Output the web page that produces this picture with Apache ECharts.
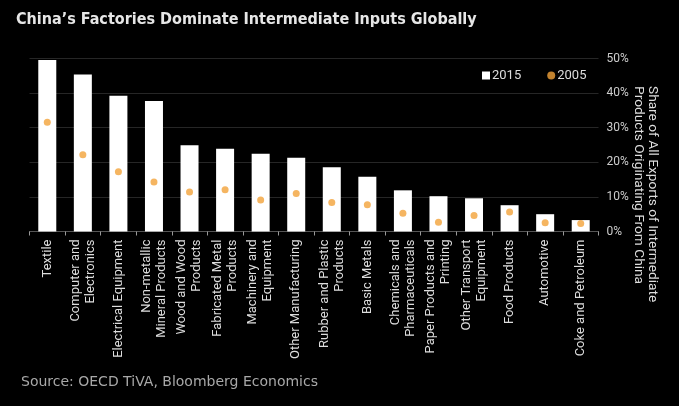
<!DOCTYPE html>
<html><head><meta charset="utf-8">
<script src="https://cdn.jsdelivr.net/npm/echarts@6/dist/echarts.min.js"></script>
<style>html,body{margin:0;padding:0;background:#000;}#c{width:679px;height:406px;}</style>
</head><body><div id="c"></div>
<script>
const categories = ["Textile","Computer and\nElectronics","Electrical Equipment","Non-metallic\nMineral Products","Wood and Wood\nProducts","Fabricated Metal\nProducts","Machinery and\nEquipment","Other Manufacturing","Rubber and Plastic\nProducts","Basic Metals","Chemicals and\nPharmaceuticals","Paper Products and\nPrinting","Other Transport\nEquipment","Food Products","Automotive","Coke and Petroleum"];
const values2015 = [49.6,45.4,39.2,37.7,24.9,23.9,22.5,21.3,18.6,15.8,11.9,10.2,9.6,7.6,5.0,3.3];
const values2005 = [31.6,22.2,17.3,14.3,11.4,12.1,9.1,11.0,8.4,7.7,5.3,2.7,4.6,5.6,2.5,2.3];
const yTicks = [0,10,20,30,40,50];

const chart = echarts.init(document.getElementById('c'));
chart.setOption({
  backgroundColor:'#000',
  animation:false,
  title:{text:"China’s Factories Dominate Intermediate Inputs Globally",left:11,top:7,
    textStyle:{color:'#e6e6e6',fontSize:16,fontWeight:'bold',fontFamily:'"DejaVu Sans Condensed","Liberation Sans Narrow",sans-serif'}},
  legend:{left:477,top:64,itemWidth:8,itemHeight:8,itemGap:26,
    textStyle:{color:'#dddddd',fontSize:13,fontFamily:'Roboto, sans-serif',padding:[0,0,0,-3]},
    data:[{name:'2015',icon:'rect'},{name:'2005',icon:'circle'}]},
  grid:{left:29.5,right:80.5,top:58.5,bottom:174.5},
  xAxis:{type:'category',data:categories,
    axisLine:{lineStyle:{color:'#555'}},
    axisTick:{show:true,length:4,lineStyle:{color:'#999'}},
    axisLabel:{rotate:90,color:'#dddddd',fontSize:13,lineHeight:15,fontFamily:'Roboto, sans-serif',interval:0,margin:8}},
  yAxis:{type:'value',position:'right',min:0,max:50,interval:10,
    axisLabel:{color:'#cccccc',fontSize:12,fontFamily:'Roboto, sans-serif',margin:8,
      formatter:v=>yTicks.includes(v)?v+'%':''},
    splitLine:{lineStyle:{color:'#262626'}},axisLine:{show:false},axisTick:{show:false}},
  graphic:[
    {type:'text',left:631,top:86,rotation:-Math.PI/2,
     style:{text:'Share of All Exports of Intermediate\nProducts Originating From China',fill:'#dddddd',
       font:'13.7px Roboto, sans-serif',lineHeight:14,align:'center'}},
    {type:'text',left:21,top:375,style:{text:'Source: OECD TiVA, Bloomberg Economics',fill:'#a8a8a8',
       font:'14px "DejaVu Sans", sans-serif'}}
  ],
  series:[
    {name:'2015',type:'bar',data:values2015,barWidth:18,itemStyle:{color:'#ffffff'}},
    {name:'2005',type:'scatter',data:values2005,symbolSize:7,itemStyle:{color:'#f2a33a'}}
  ]
});
</script></body></html>
